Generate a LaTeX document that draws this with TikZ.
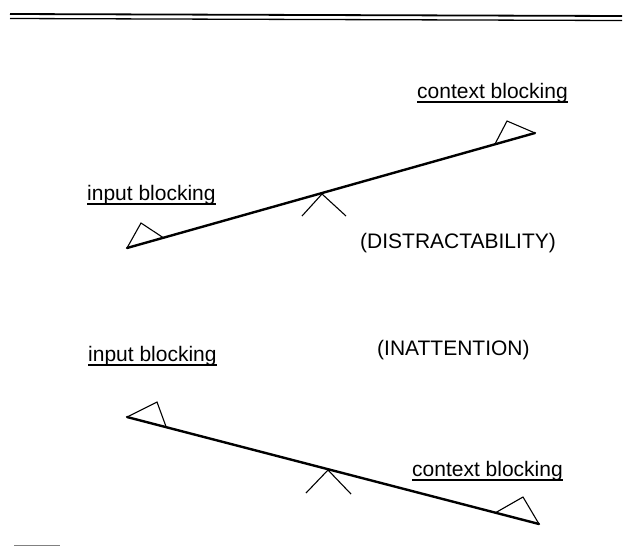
\documentclass[tikz,border=0pt]{standalone}
\usepackage{fontspec}
\setmainfont{Liberation Sans}
\usepackage{tikz}

\tikzset{
  beam/.style={line width=2.4pt, line cap=round},
  pivot/.style={line width=1.1pt},
  lbl/.style={anchor=base west, inner sep=0pt, font=\fontsize{21}{25}\selectfont},
  uline/.style={line width=1.2pt},
}

\begin{document}
\begin{tikzpicture}[x=1pt, y=-1pt]
\useasboundingbox (0,0) rectangle (626,547);

% draw rule at top
\draw [line width=1.8pt] (10,14) -- (622,16);
\draw [line width=1.3pt] (10,18.5) -- (622,20.5);

% draw upper beam
\draw [beam] (127,248) coordinate (u_1) -- (535,133) coordinate (u_2);
\draw [pivot] (u_1) -- (141,223) -- (163,237.5);
\draw [pivot] (495,144) -- (507,121) -- (u_2);
\draw [pivot] (302,216) -- (322,194) coordinate (f_1) -- (346,216);

\node [lbl] (in_u) at (87,200) {input blocking};
\draw [uline] ([yshift=-4pt]in_u.base west) -- ([yshift=-4pt]in_u.base east);
\node [lbl] (ct_u) at (417,98) {context blocking};
\draw [uline] ([yshift=-4pt]ct_u.base west) -- ([yshift=-4pt]ct_u.base east);
\node [lbl] (dist) at (360,248) {(DISTRACTABILITY)};

% draw lower beam
\node [lbl] (inat) at (377,355) {(INATTENTION)};
\draw [beam] (127,417) coordinate (l_1) -- (539,524) coordinate (l_2);
\draw [pivot] (l_1) -- (157,402) -- (166,426.5);
\draw [pivot] (495,513) -- (523,497) -- (l_2);
\draw [pivot] (306,493) -- (328,470) coordinate (f_2) -- (351,494);

\node [lbl] (in_l) at (88,361) {input blocking};
\draw [uline] ([yshift=-4pt]in_l.base west) -- ([yshift=-4pt]in_l.base east);
\node [lbl] (ct_l) at (412,476) {context blocking};
\draw [uline] ([yshift=-4pt]ct_l.base west) -- ([yshift=-4pt]ct_l.base east);

% short mark at bottom
\draw [gray, line width=0.8pt] (14,545.5) -- (60,545.5);

\end{tikzpicture}
\end{document}
